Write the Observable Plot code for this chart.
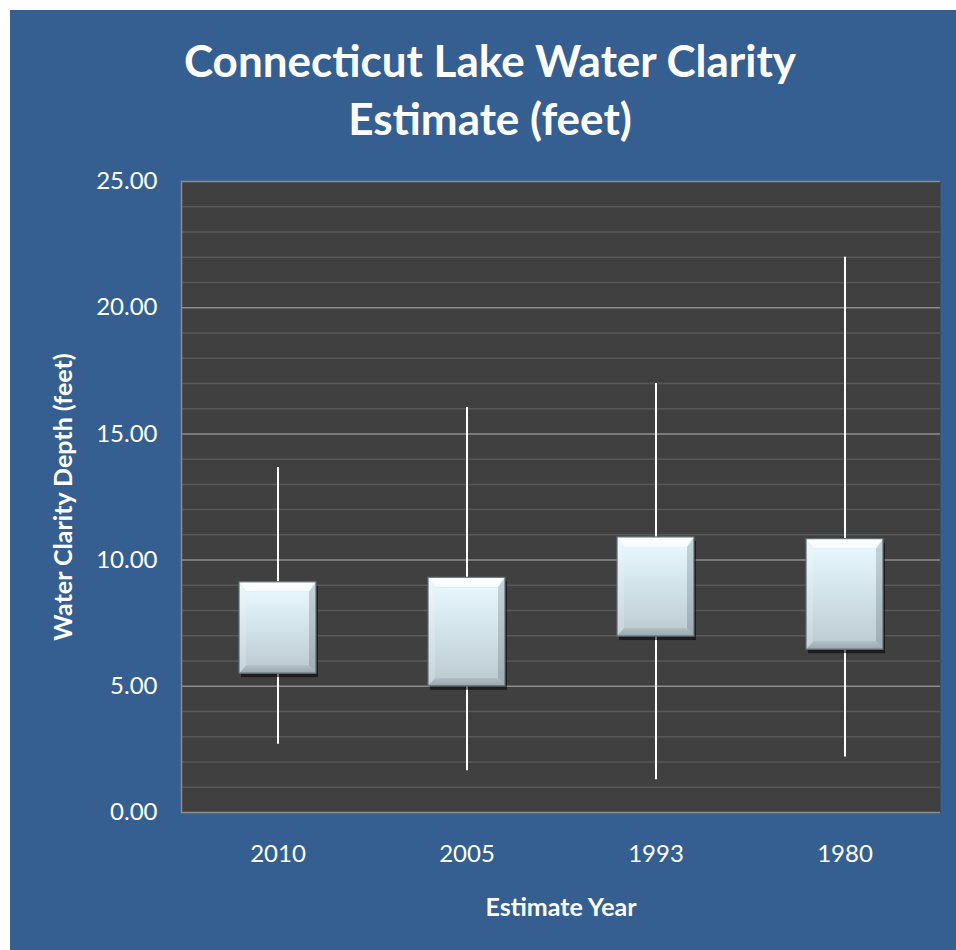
<!DOCTYPE html>
<html>
<head>
<meta charset="utf-8">
<script src="https://cdn.jsdelivr.net/npm/d3@7"></script>
<script src="https://cdn.jsdelivr.net/npm/@observablehq/plot@0.6"></script>
<style>
  body { margin:0; width:956px; height:950px; overflow:hidden; background:#fff; position:relative; font-family: Lato, "Open Sans", sans-serif; }
  #panel { position:absolute; left:10px; top:10px; width:946px; height:940px; background:#365f91; }
  #title { position:absolute; left:0; top:31px; width:980px; text-align:center; color:#fff; font-weight:bold; font-size:44px; line-height:58px; }
  #chart { position:absolute; left:0; top:150px; }
  #chart svg g[aria-label="x-axis label"] text, #chart svg g[aria-label="y-axis label"] text { font-weight:bold; font-size:25px; }
</style>
</head>
<body>
<div id="panel"></div>
<div id="title">Connecticut Lake Water Clarity<br>Estimate (feet)</div>
<div id="chart"></div>
<script>
// ---- data ----
const years = ["2010", "2005", "1993", "1980"];
const lows  = [2.70, 1.65, 1.30, 2.20];
const q1s   = [5.50, 5.00, 6.97, 6.45];
const q3s   = [9.12, 9.30, 10.90, 10.83];
const highs = [13.67, 16.05, 17.00, 22.00];
const majorTicks = [0, 5, 10, 15, 20, 25];
const minorTicks = d3.range(0, 26, 1).filter(v => v % 5 !== 0);

const data = years.map((year, i) => ({year, low: lows[i], q1: q1s[i], q3: q3s[i], high: highs[i]}));

// ---- layout ----
const width = 956, height = 782;
const mL = 181, mR = 16, mT = 31, mB = 120;
const padInner = 0.595;
const bevTop = 10, bevSide = 7, bevBottom = 8;

// draws a bevelled face over each rendered rect of the mark
function bevelRender(index, scales, values, dimensions, context, next) {
  const g = next(index, scales, values, dimensions, context);
  const sel = d3.select(g);
  const rects = [];
  sel.selectAll("rect").each(function () {
    const r = d3.select(this);
    rects.push({x: +r.attr("x"), y: +r.attr("y"), w: +r.attr("width"), h: +r.attr("height")});
  });
  for (const {x, y, w, h} of rects) {
    const t = bevTop, s = bevSide, b = bevBottom;
    const poly = (pts, fill) => sel.append("polygon").attr("points", pts.map(p => p.join(",")).join(" ")).attr("fill", fill);
    poly([[x, y + h], [x + w, y + h], [x + w - s, y + h - b], [x + s, y + h - b]], "url(#bevBottom)");
    poly([[x + w, y], [x + w, y + h], [x + w - s, y + h - b], [x + w - s, y + t]], "url(#bevRight)");
    poly([[x, y], [x + s, y + t], [x + s, y + h - b], [x, y + h]], "url(#bevLeft)");
    poly([[x, y], [x + w, y], [x + w - s, y + t], [x + s, y + t]], "url(#bevTop)");
    sel.append("rect").attr("x", x + s).attr("y", y + t).attr("width", Math.max(0, w - 2 * s)).attr("height", Math.max(0, h - t - b)).attr("fill", "url(#face)");
    sel.append("rect").attr("x", x).attr("y", y).attr("width", w).attr("height", h).attr("fill", "none").attr("stroke", "#5f6c72").attr("stroke-width", 1.2);
  }
  return g;
}

const svg = Plot.plot({
  width, height,
  marginLeft: mL, marginRight: mR, marginTop: mT, marginBottom: mB,
  style: {background: "transparent", color: "#fff", fontFamily: "Lato, 'Open Sans', sans-serif", fontSize: "24px"},
  x: {type: "band", domain: years, paddingInner: padInner, paddingOuter: padInner / 2, label: "Estimate Year"},
  y: {domain: [0, 25], label: "Water Clarity Depth (feet)"},
  marks: [
    Plot.frame({fill: "#404040", stroke: "none"}),
    Plot.gridY(minorTicks, {stroke: "#585858", strokeOpacity: 1, strokeWidth: 1.5}),
    Plot.gridY(majorTicks, {stroke: "#8c8c8c", strokeOpacity: 1, strokeWidth: 1.5}),
    Plot.frame({anchor: "left", stroke: "#8c8c8c", strokeWidth: 1.5}),
    Plot.axisY({ticks: majorTicks, tickFormat: d3.format(".2f"), tickSize: 0, tickPadding: 24,
                labelAnchor: "center", labelOffset: 127, labelArrow: "none"}),
    Plot.axisX({tickSize: 0, tickPadding: 32, labelAnchor: "center", labelOffset: 103, labelArrow: "none"}),
    // whiskers
    Plot.ruleX(data, {x: "year", y1: "low", y2: "high", stroke: "#ffffff", strokeWidth: 2}),
    // shadow
    Plot.rect(data, {x: "year", y1: "q1", y2: "q3", fill: "#000", fillOpacity: 0.55, dx: 2, dy: 4, ariaLabel: "box-shadow"}),
    // bevelled box
    Plot.rect(data, {x: "year", y1: "q1", y2: "q3", fill: "#b7c6cc", render: bevelRender})
  ]
});

const s = d3.select(svg);
const defs = s.insert("defs", ":first-child");
const f = defs.append("filter").attr("id", "blur").attr("x", "-20%").attr("y", "-20%").attr("width", "140%").attr("height", "140%");
f.append("feGaussianBlur").attr("stdDeviation", 3);
function grad(id, x2, y2, stops) {
  const g = defs.append("linearGradient").attr("id", id).attr("x1", 0).attr("y1", 0).attr("x2", x2).attr("y2", y2);
  stops.forEach(([o, c]) => g.append("stop").attr("offset", o).attr("stop-color", c));
}
grad("face", 0, 1, [[0, "#e6f6fc"], [0.5, "#d2e2e9"], [1, "#bfcdd3"]]);
grad("bevTop", 0, 1, [[0, "#ffffff"], [1, "#f4fbfe"]]);
grad("bevLeft", 0, 1, [[0, "#eef9fd"], [1, "#c6d4da"]]);
grad("bevRight", 0, 1, [[0, "#c5d4da"], [1, "#9eadb3"]]);
grad("bevBottom", 0, 1, [[0, "#b2c0c6"], [1, "#98a7ad"]]);
s.select('g[aria-label="box-shadow"]').attr("filter", "url(#blur)");

document.getElementById("chart").appendChild(svg);
</script>
</body>
</html>
